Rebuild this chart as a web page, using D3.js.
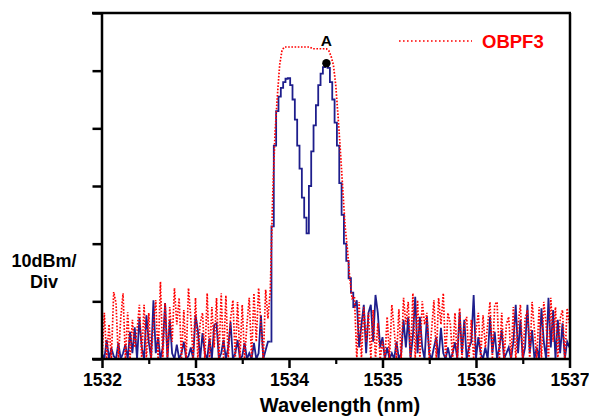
<!DOCTYPE html>
<html>
<head>
<meta charset="utf-8">
<script src="https://cdn.jsdelivr.net/npm/d3@7/dist/d3.min.js"></script>
<style>
  html, body { margin: 0; padding: 0; background: #fff; }
  svg { display: block; font-family: Arial, "Liberation Sans", sans-serif; }
</style>
</head>
<body>
<svg id="chart" width="589" height="416"></svg>
<script>
// ---- Data (relative power in dB, sampled every 0.025 nm from 1532 nm) ----
const wlStart = 1532;
const wlStep = 0.025;
const xTicks = [1532, 1533, 1534, 1535, 1536, 1537];
const xMinorTicks = [1532.5, 1533.5, 1534.5, 1535.5, 1536.5];
const yTicks = [0, 10, 20, 30, 40, 50, 60];
const markerLabel = "A";
const markerWl = 1534.4;
const legendLabel = "OBPF3";

// Signal trace (blue), split in three parts
const blueNoiseLow = [
  1, 0, 3.3, 0, 1.9, 0.5, 0, 2.8, 0, 1, 2.5, 0, 4.7, 1, 5.5, 0, 7.1, 2, 0, 7.6,
  3, 0, 10.2, 1, 3.8, 0, 2, 9.7, 0, 6.8, 1, 0, 2.5, 0, 1, 3, 0, 0.5, 2, 0,
  7.6, 5, 0, 4.5, 1, 0, 3.6, 0, 5.9, 6.2, 0, 1, 3.3, 0, 2, 6.4, 0, 1, 3.3, 0,
  0.5, 2.8, 0, 1, 0, 2.8, 0, 1, 7.6, 0, 1.5, 3
];
const bluePeak = [
  3, 23, 37, 43, 45.5, 47, 48, 48.6, 48.7, 47.5, 45, 41.5, 37, 33, 28, 24.5,
  21.8, 30, 36, 40.5, 44, 47.5, 49.5, 50.6, 51.3, 50.5, 48, 45, 41, 37, 30.5,
  25, 20, 17, 14, 11.5
];
const blueNoiseHigh = [
  9, 10.2, 2, 6, 9.4, 1, 8, 9.4, 3, 11.1, 8, 2, 3.8, 0, 2, 0, 1, 0, 3, 0,
  1, 6.8, 2, 7.3, 0, 4, 10.8, 1, 7.3, 2, 0, 7.3, 1, 0, 2, 3.8, 0, 5.4, 1, 0,
  2, 0, 1, 2.9, 0, 8.1, 1, 6.8, 0, 2, 3, 11.1, 0, 3.8, 1, 0, 2, 0, 7.3, 1,
  4.7, 0, 2, 5, 0, 1, 2, 0, 3, 9.4, 1, 6.8, 0, 2, 9.4, 1, 5, 0, 2, 0,
  8.8, 3, 0, 10.6, 2, 8.5, 0, 6.8, 1, 6.2, 0, 3, 2
];

// Filter trace OBPF3 (red), split in three parts
const redNoiseLow = [
  0, 8, 0, 6, 0, 11.6, 9.7, 0, 7, 11.4, 0, 8.1, 0, 6.8, 2, 5, 9.4, 0, 9.4, 0,
  8, 0, 6, 10.2, 0, 13.4, 0, 9.7, 0, 9, 3, 12.3, 6, 10.6, 0, 8.5, 0, 12.3, 7, 0,
  10.6, 0, 6.2, 8, 0, 11.4, 0, 9, 2, 10.6, 0, 11.4, 0, 11, 0, 7, 10.2, 0, 9.9, 0,
  9.4, 0, 6, 10.6, 0, 11.4, 3, 12.3, 6, 0, 12, 7
];
const redPeak = [
  12, 28, 39, 45.5, 51, 53.5, 54.1, 54.1, 54.1, 54.1, 54.1, 54.1, 54.1, 54.1,
  54.1, 54.1, 54.1, 54.1, 53.8, 53.8, 53.8, 53.8, 53.8, 53.8, 53.8, 53.5, 52.5,
  51, 47.5, 42, 36, 29.5, 23, 19, 14, 10.5
];
const redNoiseHigh = [
  10.8, 0, 9.9, 0, 9, 3, 8, 0, 8.5, 0, 6.2, 0, 3, 0, 7.3, 0, 9.4, 5, 0, 8.6,
  0, 10.6, 6, 9.9, 0, 11.4, 0, 10.2, 0, 10, 6, 8, 0, 5, 10.2, 0, 10.6, 6, 11.4, 0,
  8, 6.2, 0, 8, 0, 8.8, 0, 6, 7.3, 0, 6.8, 0, 5, 8, 0, 7.6, 2, 6, 9.9, 0,
  9.4, 9.9, 0, 8, 0, 6, 7.3, 0, 9, 0, 6, 9.4, 0, 7, 8.5, 0, 9.9, 5, 0, 9,
  0, 9.9, 6, 0, 10.6, 3, 9, 0, 7, 8.5, 0, 8.8, 6
];

const blueValues = blueNoiseLow.concat(bluePeak, blueNoiseHigh);
const redValues = redNoiseLow.concat(redPeak, redNoiseHigh);
const toSeries = vals => vals.map((v, i) => ({ wl: wlStart + i * wlStep, db: v }));
const blueSeries = toSeries(blueValues);
const redSeries = toSeries(redValues);

// ---- Layout ----
const svg = d3.select("#chart");
const pLeft = 101.5, pRight = 570, pTop = 13, pBottom = 359;

const x = d3.scaleLinear().domain([1532, 1537]).range([102, 569.5]);
const y = d3.scaleLinear().domain([0, 60]).range([pBottom, pTop]);

svg.append("defs").append("clipPath").attr("id", "plotclip")
  .append("rect").attr("x", pLeft).attr("y", pTop).attr("width", pRight - pLeft).attr("height", pBottom - pTop);

const plot = svg.append("g").attr("clip-path", "url(#plotclip)");

const stepLine = d3.line().x(d => x(d.wl)).y(d => y(Math.max(0, d.db))).curve(d3.curveStep);
const linLine = d3.line().x(d => x(d.wl)).y(d => y(Math.max(0, d.db))).curve(d3.curveLinear);

// blue: noise parts as plain polyline, the peak as a staircase
const nLow = blueNoiseLow.length, nPeak = bluePeak.length;
const blueParts = [
  { pts: blueSeries.slice(0, nLow + 1), gen: linLine },
  { pts: blueSeries.slice(nLow, nLow + nPeak + 1), gen: stepLine },
  { pts: blueSeries.slice(nLow + nPeak), gen: linLine }
];
blueParts.forEach(p => {
  plot.append("path").datum(p.pts)
    .attr("d", p.gen).attr("fill", "none")
    .attr("stroke", "#1e1e8c").attr("stroke-width", 1.8).attr("stroke-linejoin", "miter");
});

plot.append("path").datum(redSeries)
  .attr("d", linLine).attr("fill", "none")
  .attr("stroke", "#ff0000").attr("stroke-width", 1.7)
  .attr("stroke-dasharray", "1.6,1.6");

// ---- Frame ----
svg.append("line").attr("x1", 92).attr("x2", pRight + 1).attr("y1", pTop).attr("y2", pTop)
  .attr("stroke", "#000").attr("stroke-width", 2.5);
svg.append("line").attr("x1", pRight).attr("x2", pRight).attr("y1", pTop).attr("y2", pBottom)
  .attr("stroke", "#000").attr("stroke-width", 2.5);

// ---- Axes ----
const yAxis = d3.axisLeft(y).tickValues(yTicks).tickSize(9).tickSizeOuter(0).tickFormat("");
const gy = svg.append("g").attr("transform", `translate(${pLeft},0)`).call(yAxis);
gy.selectAll("path, line").attr("stroke", "#000").attr("stroke-width", 2.5);

const xAxisMinor = d3.axisBottom(x).tickValues(xMinorTicks).tickSize(5).tickFormat("");
const gxm = svg.append("g").attr("transform", `translate(0,${pBottom})`).call(xAxisMinor);
gxm.select(".domain").remove();
gxm.selectAll("line").attr("stroke", "#000").attr("stroke-width", 2.2);

const xAxis = d3.axisBottom(x).tickValues(xTicks).tickSize(9).tickSizeOuter(0).tickPadding(6)
  .tickFormat(d3.format("d"));
const gx = svg.append("g").attr("transform", `translate(0,${pBottom})`).call(xAxis);
gx.select(".domain").attr("d", `M92,0H${pRight + 1}`);
gx.selectAll("path, line").attr("stroke", "#000").attr("stroke-width", 2.5);
gx.selectAll("text").attr("font-size", 17.5).attr("font-weight", "bold").attr("fill", "#000")
  .attr("font-family", "Arial, 'Liberation Sans', sans-serif");

// ---- Titles ----
svg.append("text").attr("x", 340).attr("y", 412).attr("text-anchor", "middle")
  .attr("font-size", 20).attr("font-weight", "bold").text("Wavelength (nm)");

const yt = svg.append("text").attr("text-anchor", "middle")
  .attr("font-size", 18).attr("font-weight", "bold");
yt.append("tspan").attr("x", 44).attr("y", 267).text("10dBm/");
yt.append("tspan").attr("x", 44).attr("y", 288).text("Div");

// ---- Legend ----
svg.append("line").attr("x1", 399).attr("x2", 472).attr("y1", 41).attr("y2", 41)
  .attr("stroke", "#ff0000").attr("stroke-width", 1.6).attr("stroke-dasharray", "1.6,2.4");
svg.append("text").attr("x", 482).attr("y", 47.5)
  .attr("font-size", 18.5).attr("font-weight", "bold").attr("fill", "#ff0000").text(legendLabel);

// ---- Marker A ----
const aPoint = blueSeries.reduce((best, d) => Math.abs(d.wl - markerWl) < Math.abs(best.wl - markerWl) ? d : best);
svg.append("circle").attr("cx", x(aPoint.wl)).attr("cy", y(aPoint.db)).attr("r", 4.2).attr("fill", "#000");
svg.append("text").attr("x", x(aPoint.wl)).attr("y", 46).attr("text-anchor", "middle")
  .attr("font-size", 15.5).attr("font-weight", "bold").text(markerLabel);
</script>
</body>
</html>
